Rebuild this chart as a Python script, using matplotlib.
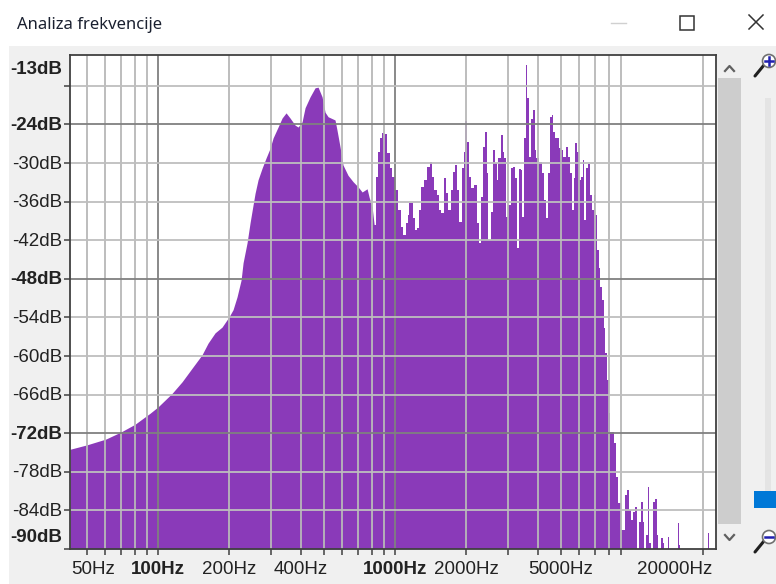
import matplotlib
matplotlib.use('Agg')
import matplotlib.pyplot as plt
from matplotlib.patches import Rectangle, Circle

# smooth part of the spectrum, up to about 800 Hz
low_freq = [42.5, 50.2, 60.3, 69.8, 80.0, 85.6, 92.5, 100.0, 114.6, 126.3, 139.1, 153.3, 162.5, 174.0, 186.2,
            199.3, 207.2, 215.4, 224.0, 228.4, 237.4, 244.4, 251.7, 256.6, 264.2, 274.7, 285.6, 296.9, 305.7,
            320.9, 333.6, 346.8, 360.5, 378.5, 389.7, 405.1, 417.1, 437.9, 459.7, 473.3, 492.0, 506.6, 521.6,
            558, 569, 586, 603, 633, 665, 698, 726, 762, 777, 800]
low_db = [-74.5, -73.8, -72.9, -71.8, -70.6, -69.8, -68.9, -67.9, -65.8, -64.0, -61.9, -59.8, -58.0, -56.4, -55.5,
          -53.9, -52.8, -50.8, -48.2, -45.5, -42.4, -39.3, -36.5, -34.7, -32.6, -30.8, -29.2, -27.7, -26.1,
          -24.4, -23.0, -22.2, -23.0, -24.1, -24.4, -23.6, -21.4, -19.7, -18.3, -18.2, -19.7, -22.1, -22.8,
          -23.3, -24.9, -27.5, -30.3, -31.9, -32.9, -33.7, -34.5, -34.0, -35.3, -36.8]

# jagged part, one value per analysis bin
high_freq = [816, 840, 856, 873, 890, 908, 934, 962, 981, 1010, 1040, 1070, 1091, 1124, 1135, 1157, 1179, 1191,
             1226, 1250, 1275, 1300, 1352, 1378, 1419, 1447, 1475, 1519, 1549, 1579, 1626, 1658, 1690, 1740,
             1774, 1809, 1827, 1880, 1936, 1955, 1994, 2033, 2073, 2113, 2176, 2241, 2285, 2330, 2375, 2422,
             2445, 2493, 2567, 2617, 2669, 2695, 2747, 2829, 2857, 2913, 2970, 3028, 3118, 3179, 3242, 3273,
             3371, 3404, 3471, 3538, 3573, 3643, 3714, 3787, 3861, 3899, 3975, 4133, 4214, 4297, 4381, 4467,
             4554, 4599, 4689, 4782, 4875, 4923, 5068, 5168, 5320, 5372, 5531, 5639, 5695, 5808, 5922, 5979,
             6156, 6216, 6339, 6463, 6590, 6719, 6851, 6918, 7054, 7192, 7262, 7405, 7550, 7624, 7773, 7925,
             8003, 8160, 8320, 8485, 8651, 8820, 8906, 9081, 9170, 9442, 9627, 9815, 10010, 10110, 10410,
             10510, 10820, 11030, 11140, 11360, 11580, 11690, 11810, 12160, 12400, 12640, 12760, 13010, 13400,
             13530, 13790, 14060, 14200, 14340, 15500, 15650, 15800, 16110, 20750, 20950, 21160, 22640]
high_db = [-39.6, -32.2, -28.3, -26.1, -25.3, -25.5, -28.4, -30.8, -32.2, -34.2, -37.3, -39.9, -41.2, -39.3, -38.1,
           -36.2, -36.2, -38.5, -40.4, -40.1, -37.3, -33.7, -32.6, -30.6, -29.8, -32.2, -34.2, -35.0, -37.3,
           -37.8, -32.3, -34.7, -37.3, -34.2, -31.4, -30.3, -34.2, -39.2, -30.8, -28.3, -23.5, -26.7, -32.2,
           -33.9, -33.4, -39.3, -42.4, -35.3, -27.5, -25.2, -31.5, -42.0, -37.6, -28.0, -30.0, -32.6, -29.2,
           -25.6, -28.3, -29.2, -38.4, -36.5, -30.8, -30.6, -32.3, -43.2, -30.9, -31.1, -38.4, -26.1, -14.7,
           -19.9, -29.1, -23.1, -21.7, -28.0, -29.2, -29.8, -31.5, -35.7, -38.5, -31.5, -22.8, -22.5, -25.2,
           -26.1, -26.1, -27.7, -28.0, -29.1, -27.5, -29.1, -31.5, -37.3, -32.3, -26.9, -28.3, -32.6, -32.2,
           -29.5, -38.9, -30.8, -30.1, -35.0, -37.3, -35.0, -38.1, -43.5, -46.3, -49.3, -51.3, -55.6, -59.5,
           -63.7, -68.9, -71.8, -71.8, -73.5, -78.8, -82.9, -82.9, -87.1, -87.1, -81.6, -80.8, -84.0, -85.5,
           -84.3, -83.5, -90.0, -85.8, -82.7, -85.8, -90.0, -87.8, -80.4, -89.1, -90.0, -82.7, -82.2, -87.8,
           -90.0, -88.3, -89.1, -90.0, -90.0, -88.2, -90.0, -90.0, -86.0, -89.4, -90.0, -90.0, -87.5, -90.0, -90.0]

freq_lines = [50, 60, 70, 80, 90, 100, 200, 300, 400, 500, 600, 700, 800, 900, 1000,
              2000, 3000, 4000, 5000, 6000, 7000, 8000, 9000, 20000]
dark_freq = [100, 1000]
db_lines = [-18, -24, -30, -36, -42, -48, -54, -60, -66, -72, -78, -84]
dark_db = [-24, -48, -72]

freq_labels = ['50Hz', '100Hz', '200Hz', '400Hz', '1000Hz', '2000Hz', '5000Hz', '20000Hz']
freq_label_vals = [50, 100, 200, 400, 1000, 2000, 5000, 20000]
db_labels = ['-13dB', '-24dB', '-30dB', '-36dB', '-42dB', '-48dB', '-54dB', '-60dB', '-66dB', '-72dB', '-78dB',
             '-84dB', '-90dB']
db_label_vals = [-13, -24, -30, -36, -42, -48, -54, -60, -66, -72, -78, -84, -90]

W, H = 776, 584
PURPLE = '#8A3AB9'
FONT = 'Liberation Sans'
px = 0.72  # points per pixel at dpi 100

fig = plt.figure(figsize=(W / 100, H / 100), dpi=100, facecolor='white')

# window chrome lives on a full figure axes measured in pixels
chrome = fig.add_axes([0, 0, 1, 1], zorder=0)
chrome.set_xlim(0, W)
chrome.set_ylim(H, 0)
chrome.axis('off')
chrome.add_patch(Rectangle((9, 46), W - 9, H - 46, color='#F0F0F0', lw=0))
chrome.text(17, 25, 'Analiza frekvencije', fontsize=12, family='Noto Sans', va='center', color='#1a2030')

chrome.plot([611, 626], [23, 23], color='#D0D0D0', lw=1)
chrome.add_patch(Rectangle((680, 16), 14, 14, fill=False, ec='#333333', lw=1.1))
chrome.plot([749, 763], [15, 29], color='#333333', lw=1.1)
chrome.plot([749, 763], [29, 15], color='#333333', lw=1.1)

# scrollbar and slider on the right
chrome.add_patch(Rectangle((718, 78), 23, 446, color='#CDCDCD', lw=0))
chrome.plot([725, 729.5, 734], [71, 66, 71], color='#606060', lw=1.6)
chrome.plot([725, 729.5, 734], [535, 540, 535], color='#606060', lw=1.6)
chrome.add_patch(Rectangle((765, 98), 6, 393, color='#E4E4E4', lw=0))
chrome.add_patch(Rectangle((754, 491), 22, 17, color='#0078D7', lw=0))

for cy, plus in [(61, True), (537, False)]:
    cx = 769
    chrome.plot([755, cx - 5], [cy + 15, cy + 4], color='#202020', lw=2.2, solid_capstyle='round')
    chrome.add_patch(Circle((cx, cy), 6.5, fc='white', ec='#707070', lw=1.2, zorder=3))
    chrome.plot([cx - 4, cx + 4], [cy, cy], color='#2020B0', lw=1.8, zorder=4)
    if plus:
        chrome.plot([cx, cx], [cy - 4, cy + 4], color='#2020B0', lw=1.8, zorder=4)

ax = fig.add_axes([70 / W, 1 - 549 / H, (716 - 70) / W, (549 - 55) / H], zorder=1)
ax.set_xscale('log')
ax.set_xlim(42.5, 22600)
ax.set_ylim(-90, -13.2)
ax.set_facecolor('white')

ax.fill_between(low_freq, low_db, -90, color=PURPLE, lw=0, zorder=1)
ax.fill_between(high_freq, high_db, -90, step='mid', color=PURPLE, lw=0, zorder=1)
# close the small gap where the two parts meet
ax.fill_between([low_freq[-1], high_freq[0]], [low_db[-1], high_db[0]], -90, color=PURPLE, lw=0, zorder=1)

for f in freq_lines:
    ax.axvline(f, color='#808080' if f in dark_freq else '#B8B8B8', lw=1.3, zorder=2)
for d in db_lines:
    ax.axhline(d, color='#808080' if d in dark_db else '#BEBEBE', lw=1.3, zorder=2)

ax.set_xticks(freq_lines)
ax.set_xticks([], minor=True)
ax.set_xticklabels([])
ax.set_yticks(db_lines + [-90])
ax.set_yticklabels([])
ax.tick_params(axis='both', which='major', length=4.5, width=1.1, color='#404040')
for s in ax.spines.values():
    s.set_color('#404040')
    s.set_linewidth(1.3)
    s.set_zorder(5)

# end labels get pushed inward so they stay inside the window
x_shift = {50: 6, 20000: -29}
for val, lab in zip(freq_label_vals, freq_labels):
    bold = val in dark_freq
    ax.annotate(lab, xy=(val, 0), xycoords=ax.get_xaxis_transform(), xytext=(x_shift.get(val, 0) * px, -20.5 * px),
                textcoords='offset points', ha='center', va='center', fontsize=13.5, family=FONT,
                fontweight='bold' if bold else 'normal', color='#222222', annotation_clip=False)

y_shift = {-13: -14, -90: 12}
for val, lab in zip(db_label_vals, db_labels):
    bold = val in [-13, -24, -48, -72, -90]
    pos = -13.2 if val == -13 else val
    ax.annotate(lab, xy=(0, pos), xycoords=ax.get_yaxis_transform(), xytext=(-8 * px, (y_shift.get(val, 0) - 1) * px),
                textcoords='offset points', ha='right', va='center', fontsize=13.5, family=FONT,
                fontweight='bold' if bold else 'normal', color='#222222', annotation_clip=False)

fig.savefig('out.png', dpi=100)
